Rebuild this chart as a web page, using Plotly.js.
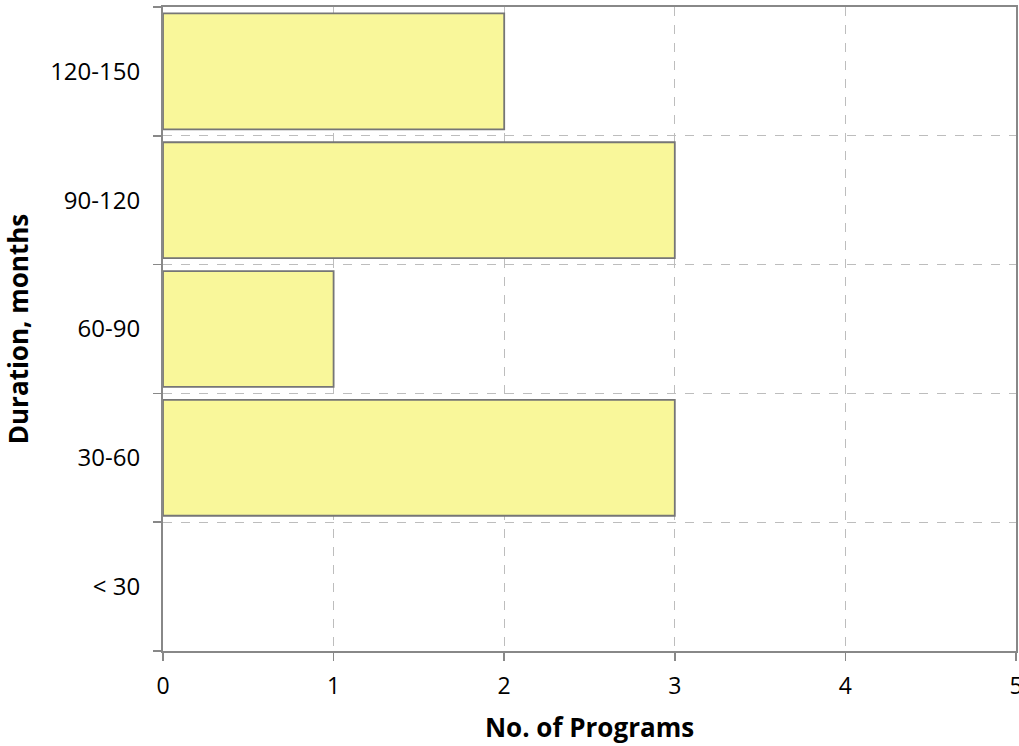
<!DOCTYPE html>
<html>
<head>
<meta charset="utf-8">
<script src="https://cdn.plot.ly/plotly-3.0.1.min.js"></script>
<style>html,body{margin:0;padding:0;background:#fff;}#chart{width:1019px;height:746px;}</style>
</head>
<body>
<div id="chart"></div>
<script>
const categories = ['< 30', '30-60', '60-90', '90-120', '120-150'];
const programs = [0, 3, 1, 3, 2];
const xTicks = [0, 1, 2, 3, 4, 5];

const trace = {
  type: 'bar',
  orientation: 'h',
  y: categories,
  x: programs,
  width: 0.9,
  marker: {
    color: '#F9F79A',
    line: { color: '#767676', width: programs.map(v => v > 0 ? 1.8 : 0) }
  },
  hoverinfo: 'x+y'
};

const layout = {
  width: 1019,
  height: 746,
  margin: { l: 163, r: 3, t: 7, b: 95 },
  paper_bgcolor: '#ffffff',
  plot_bgcolor: '#ffffff',
  showlegend: false,
  font: { family: 'Open Sans, sans-serif', color: '#000000' },
  bargap: 0.1,
  xaxis: {
    range: [0, 5],
    tickvals: xTicks,
    ticktext: xTicks.map(String),
    ticklabeloverflow: 'allow',
    showgrid: true,
    gridcolor: '#BDBDBD',
    griddash: 'dash',
    gridwidth: 1,
    zeroline: false,
    showline: true,
    linecolor: '#888888',
    linewidth: 2,
    mirror: true,
    ticks: 'outside',
    ticklen: 8,
    tickcolor: '#888888',
    tickwidth: 1.5,
    ticklabelstandoff: 5,
    tickfont: { size: 23, family: 'Open Sans, sans-serif', color: '#000' },
    title: { text: 'No. of Programs', font: { size: 26, family: 'Open Sans, sans-serif', weight: 'bold', color: '#000' }, standoff: 19 }
  },
  yaxis: {
    type: 'category',
    categoryorder: 'array',
    categoryarray: categories,
    range: [-0.5, 4.5],
    tickson: 'boundaries',
    showgrid: true,
    gridcolor: '#BDBDBD',
    griddash: 'dash',
    gridwidth: 1,
    zeroline: false,
    showline: true,
    linecolor: '#888888',
    linewidth: 2,
    mirror: true,
    ticks: 'outside',
    ticklen: 8,
    tickcolor: '#888888',
    tickwidth: 1.5,
    ticklabelstandoff: 16,
    tickfont: { size: 24, family: 'Open Sans, sans-serif', color: '#000' },
    title: { text: 'Duration, months', font: { size: 26, family: 'Open Sans, sans-serif', weight: 'bold', color: '#000' }, standoff: 14 }
  }
};

Plotly.newPlot('chart', [trace], layout, { displayModeBar: false, staticPlot: true });
</script>
</body>
</html>
